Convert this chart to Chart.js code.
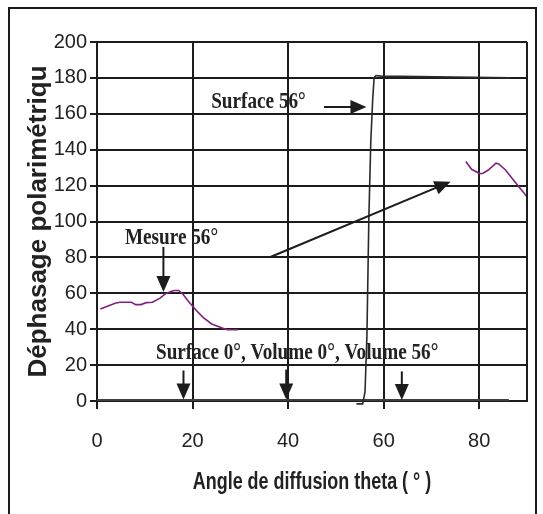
<!DOCTYPE html>
<html>
<head>
<meta charset="utf-8">
<script src="https://cdn.jsdelivr.net/npm/chart.js@4"></script>
<style>
  html, body { margin: 0; padding: 0; background: #fff; overflow: hidden; }
  #cadre { position: absolute; left: 8px; top: 7px; width: 525px; height: 530px; border: 2px solid #1a1a1a; }
  #boite { position: absolute; left: 0; top: 0; width: 543px; height: 514px; }
</style>
</head>
<body>
<div id="cadre"></div>
<div id="boite"><canvas id="graphe"></canvas></div>
<script>
// Valori (angolo in gradi, sfasamento)
var mesureX = [0.7, 3.8, 4.8, 7.2, 8.1, 9.2, 10.3, 11.6, 13.2, 14.3, 15.3, 16.1, 17.1, 17.9, 19.3, 20.8, 22.2, 24.0, 26.2, 27.3, 29.5,
               50,
               77.2, 78.4, 80.1, 80.8, 81.9, 83.5, 84.1, 85.5, 87.7, 90];
var mesureY = [51.3, 54.5, 55, 55, 53.7, 53.7, 54.8, 55, 57.3, 59.7, 60.8, 61.6, 61.6, 59.7, 55, 50.4, 46.6, 42.9, 40.7, 39.7, 39.7,
               null,
               133.4, 129.1, 126.7, 126.9, 128.7, 132.5, 132.1, 128.7, 121.3, 113.8];

var surface56X = [54.3, 55.6, 56.1, 56.5, 56.9, 57.3, 57.7, 58.0, 58.4, 59.5, 86.4];
var surface56Y = [-1.6, -1.6, 5, 37, 102, 144, 168, 180, 181.3, 181, 180];

// Surface 0°, Volume 0°, Volume 56° : tutti a zero
var zeroX = [0, 86.2];
var zeroY = [0, 0];

var xTicks = [0, 20, 40, 60, 80];
var yTicks = [0, 20, 40, 60, 80, 100, 120, 140, 160, 180, 200];

var titoloX = "Angle de diffusion theta ( ° )";
var titoloY = "Déphasage polarimétriqu";

// Etichette e frecce (in coordinate dati)
var etichette = [
    { testo: "Surface 56°", x: 33.8, y: 166.7 },
    { testo: "Mesure 56°", x: 15.6, y: 90.8 },
    { testo: "Surface 0°, Volume 0°, Volume 56°", x: 41.9, y: 26.9 }
];
var frecce = [
    { x1: 47.5, y1: 163.8, x2: 56.4, y2: 163.8 },
    { x1: 13.9, y1: 85.8, x2: 13.9, y2: 60.7 },
    { x1: 36.3, y1: 80.2, x2: 74.0, y2: 122.2 },
    { x1: 18.1, y1: 17.0, x2: 18.1, y2: 0.9 },
    { x1: 39.6, y1: 17.5, x2: 39.6, y2: 0.9 },
    { x1: 63.8, y1: 16.5, x2: 63.8, y2: 0.6 }
];

function punti(xs, ys) {
    return xs.map(function (x, i) { return { x: x, y: ys[i] }; });
}

var nero = "#1c1c1c";

var annotazioni = {
    id: "annotazioni",
    afterDatasetsDraw: function (chart) {
        var ctx = chart.ctx, sx = chart.scales.x, sy = chart.scales.y;
        var a = chart.chartArea;
        ctx.save();
        // bordo destro dell'area
        ctx.strokeStyle = nero;
        ctx.lineWidth = 2;
        ctx.beginPath();
        ctx.moveTo(a.right, a.top);
        ctx.lineTo(a.right, a.bottom);
        ctx.stroke();

        ctx.fillStyle = nero;
        ctx.strokeStyle = nero;
        frecce.forEach(function (f) {
            var x1 = sx.getPixelForValue(f.x1), y1 = sy.getPixelForValue(f.y1);
            var x2 = sx.getPixelForValue(f.x2), y2 = sy.getPixelForValue(f.y2);
            var ang = Math.atan2(y2 - y1, x2 - x1);
            var lung = 16, semi = 7;
            ctx.lineWidth = 2;
            ctx.beginPath();
            ctx.moveTo(x1, y1);
            ctx.lineTo(x2 - Math.cos(ang) * lung * 0.8, y2 - Math.sin(ang) * lung * 0.8);
            ctx.stroke();
            ctx.beginPath();
            ctx.moveTo(x2, y2);
            ctx.lineTo(x2 - Math.cos(ang) * lung - Math.sin(ang) * semi, y2 - Math.sin(ang) * lung + Math.cos(ang) * semi);
            ctx.lineTo(x2 - Math.cos(ang) * lung + Math.sin(ang) * semi, y2 - Math.sin(ang) * lung - Math.cos(ang) * semi);
            ctx.closePath();
            ctx.fill();
        });

        ctx.font = "bold 24px 'Liberation Serif', 'Times New Roman', serif";
        ctx.textAlign = "center";
        ctx.textBaseline = "middle";
        etichette.forEach(function (e) {
            ctx.save();
            ctx.translate(sx.getPixelForValue(e.x), sy.getPixelForValue(e.y));
            ctx.scale(0.8, 1);
            ctx.fillStyle = "#222";
            ctx.fillText(e.testo, 0, 0);
            ctx.restore();
        });

        // titolo asse x, stretto come nell'originale
        ctx.save();
        ctx.font = "bold 23px 'Liberation Sans', Arial, sans-serif";
        ctx.translate((a.left + a.right) / 2, sx.bottom - 31);
        ctx.scale(0.78, 1);
        ctx.fillStyle = "#222";
        ctx.fillText(titoloX, 0, 0);
        ctx.restore();

        ctx.restore();
    }
};

new Chart(document.getElementById("graphe").getContext("2d"), {
    type: "line",
    data: {
        datasets: [
            {
                data: punti(zeroX, zeroY),
                borderColor: "#3f3f3f",
                borderWidth: 4,
                pointRadius: 0,
                order: 3
            },
            {
                data: punti(surface56X, surface56Y),
                borderColor: "#2a2a2a",
                borderWidth: 1.6,
                pointRadius: 0,
                clip: 6,
                order: 2
            },
            {
                data: punti(mesureX, mesureY),
                borderColor: "#80207f",
                borderWidth: 1.6,
                pointRadius: 0,
                spanGaps: false,
                order: 1
            }
        ]
    },
    options: {
        responsive: true,
        maintainAspectRatio: false,
        animation: false,
        events: [],
        layout: { padding: { top: 42, right: 16, left: 0, bottom: 0 } },
        plugins: { legend: { display: false }, tooltip: { enabled: false } },
        scales: {
            x: {
                type: "linear",
                min: 0,
                max: 90,
                afterBuildTicks: function (s) { s.ticks = xTicks.map(function (v) { return { value: v }; }); },
                afterFit: function (s) { s.height = 113; },
                grid: { color: nero, lineWidth: 2, tickLength: 8 },
                border: { color: nero, width: 2 },
                ticks: { color: "#222", padding: 20, maxRotation: 0, font: { family: "'Liberation Sans', Arial", size: 20 } },
                title: { display: false }
            },
            y: {
                min: 0,
                max: 200,
                afterBuildTicks: function (s) { s.ticks = yTicks.map(function (v) { return { value: v }; }); },
                afterFit: function (s) { s.width = 97; },
                grid: { color: nero, lineWidth: 2, tickLength: 7 },
                border: { color: nero, width: 2 },
                ticks: { color: "#222", padding: 3, font: { family: "'Liberation Sans', Arial", size: 20 } },
                title: {
                    display: true,
                    text: titoloY,
                    color: "#222",
                    padding: { top: 23, bottom: 0 },
                    font: { family: "'Liberation Sans', Arial", size: 26, weight: "bold" }
                }
            }
        }
    },
    plugins: [annotazioni]
});
</script>
</body>
</html>
